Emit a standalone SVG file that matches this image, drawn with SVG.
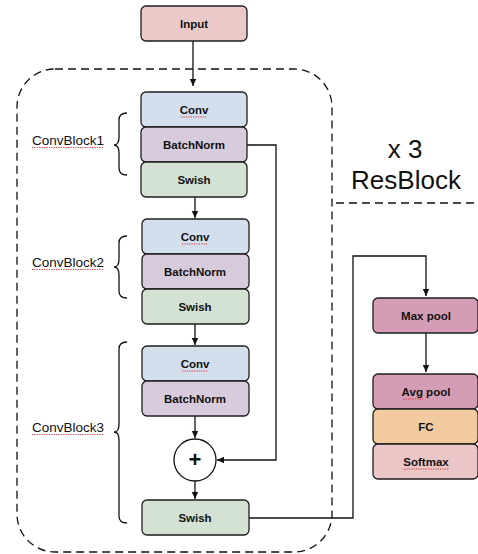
<svg xmlns="http://www.w3.org/2000/svg" width="478" height="554" viewBox="0 0 478 554">
<defs>
<style>
.box{stroke:#1e1e1e;stroke-width:1.3}
.lbl{font-family:"Liberation Sans",Arial,sans-serif;font-size:11.5px;font-weight:bold;fill:#111;text-anchor:middle}
.side{font-family:"Liberation Sans",Arial,sans-serif;font-size:13.5px;fill:#111}
.big{font-family:"Liberation Sans",Arial,sans-serif;font-size:26px;fill:#111;text-anchor:middle}
.ln{fill:none;stroke:#111;stroke-width:1.3}
.dash{fill:none;stroke:#111;stroke-width:1.3;stroke-dasharray:8 5}
.sq{fill:none;stroke:#e03030;stroke-width:1;stroke-dasharray:1.2 1.2}
.input{fill:#ebc9c9}.conv{fill:#d4dfee}.bn{fill:#d8cbdd}.sw{fill:#d3e2d3}.pool{fill:#d59db5}.fc{fill:#f2caa0}.sm{fill:#ebc6c6}
</style>
<marker id="arr" markerWidth="8" markerHeight="8" refX="7" refY="4" orient="auto" markerUnits="userSpaceOnUse">
<path d="M0,0.8 L7,4 L0,7.2 Z" fill="#111"/>
</marker>
</defs>
<rect width="478" height="554" fill="#fff"/>

<g id="resblock-frame">
<rect x="17" y="69" width="315" height="483" rx="38" class="dash"/>
<line x1="336" y1="203" x2="478" y2="203" class="dash"/>
<text class="big" x="405" y="158">x 3</text>
<text class="big" x="406" y="189">ResBlock</text>
</g>

<g id="connectors">
<line x1="193" y1="41" x2="193" y2="86" class="ln" marker-end="url(#arr)"/>
<line x1="195" y1="197" x2="195" y2="218" class="ln" marker-end="url(#arr)"/>
<line x1="195" y1="324" x2="195" y2="345" class="ln" marker-end="url(#arr)"/>
<line x1="195" y1="416" x2="195" y2="438" class="ln" marker-end="url(#arr)"/>
<line x1="195" y1="481" x2="195" y2="499" class="ln" marker-end="url(#arr)"/>
<polyline points="247,145 276,145 276,460 217,460" class="ln" marker-end="url(#arr)"/>
<polyline points="249,518 353,518 353,256 426,256 426,296" class="ln" marker-end="url(#arr)"/>
<line x1="426" y1="333" x2="426" y2="372" class="ln" marker-end="url(#arr)"/>
</g>

<g id="input"><rect x="141" y="6" width="106" height="35" rx="5" class="box input"/><text class="lbl" x="194" y="27.5">Input</text></g>

<g id="conv1"><rect x="141" y="92" width="106" height="35" rx="5" class="box conv"/><text class="lbl" x="194" y="113.5">Conv</text><line x1="181" y1="117" x2="207" y2="117" class="sq"/></g>
<g id="bn1"><rect x="141" y="127" width="106" height="35" rx="5" class="box bn"/><text class="lbl" x="194" y="148.5">BatchNorm</text></g>
<g id="swish1"><rect x="141" y="162" width="106" height="35" rx="5" class="box sw"/><text class="lbl" x="194" y="183.5">Swish</text></g>

<g id="conv2"><rect x="142" y="219" width="107" height="35" rx="5" class="box conv"/><text class="lbl" x="195" y="240.5">Conv</text><line x1="182" y1="244" x2="208" y2="244" class="sq"/></g>
<g id="bn2"><rect x="142" y="254" width="107" height="35" rx="5" class="box bn"/><text class="lbl" x="195" y="275.5">BatchNorm</text></g>
<g id="swish2"><rect x="142" y="289" width="107" height="35" rx="5" class="box sw"/><text class="lbl" x="195" y="310.5">Swish</text></g>

<g id="conv3"><rect x="142" y="346" width="107" height="35" rx="5" class="box conv"/><text class="lbl" x="195" y="367.5">Conv</text><line x1="182" y1="371" x2="208" y2="371" class="sq"/></g>
<g id="bn3"><rect x="142" y="381" width="107" height="35" rx="5" class="box bn"/><text class="lbl" x="195" y="402.5">BatchNorm</text></g>
<g id="add"><circle cx="195" cy="460" r="21" fill="#fff" stroke="#111" stroke-width="1.3"/><text x="195" y="467" font-family="Liberation Sans,Arial,sans-serif" font-size="22" font-weight="bold" text-anchor="middle" fill="#111">+</text></g>
<g id="swish3"><rect x="142" y="500" width="107" height="35" rx="5" class="box sw"/><text class="lbl" x="195" y="521.5">Swish</text></g>

<g id="maxpool"><rect x="373" y="298" width="105" height="35" rx="5" class="box pool"/><text class="lbl" x="426" y="319.5">Max pool</text></g>
<g id="avgpool"><rect x="373" y="374" width="105" height="35" rx="5" class="box pool"/><text class="lbl" x="426" y="395.5">Avg pool</text><line x1="403" y1="399" x2="423" y2="399" class="sq"/></g>
<g id="fc"><rect x="373" y="409" width="105" height="35" rx="5" class="box fc"/><text class="lbl" x="426" y="430.5">FC</text></g>
<g id="softmax"><rect x="373" y="444" width="105" height="35" rx="5" class="box sm"/><text class="lbl" x="426" y="465.5">Softmax</text><line x1="404" y1="469" x2="449" y2="469" class="sq"/></g>

<g id="convblock1-label">
<path d="M127,113 Q119,113 119,120 L119,137 Q119,145 114,145 Q119,145 119,153 L119,168 Q119,175 127,175" class="ln" stroke-width="1"/>
<text class="side" x="32" y="145">ConvBlock1</text>
<line x1="32" y1="147.5" x2="104" y2="147.5" class="sq"/>
</g>
<g id="convblock2-label">
<path d="M127,236 Q119,236 119,243 L119,259 Q119,267 114,267 Q119,267 119,275 L119,291 Q119,298 127,298" class="ln" stroke-width="1"/>
<text class="side" x="32" y="267">ConvBlock2</text>
<line x1="32" y1="269.5" x2="104" y2="269.5" class="sq"/>
</g>
<g id="convblock3-label">
<path d="M127,342 Q119,342 119,349 L119,424 Q119,432 114,432 Q119,432 119,440 L119,516 Q119,523 127,523" class="ln" stroke-width="1"/>
<text class="side" x="32" y="432">ConvBlock3</text>
<line x1="32" y1="434.5" x2="104" y2="434.5" class="sq"/>
</g>
</svg>
